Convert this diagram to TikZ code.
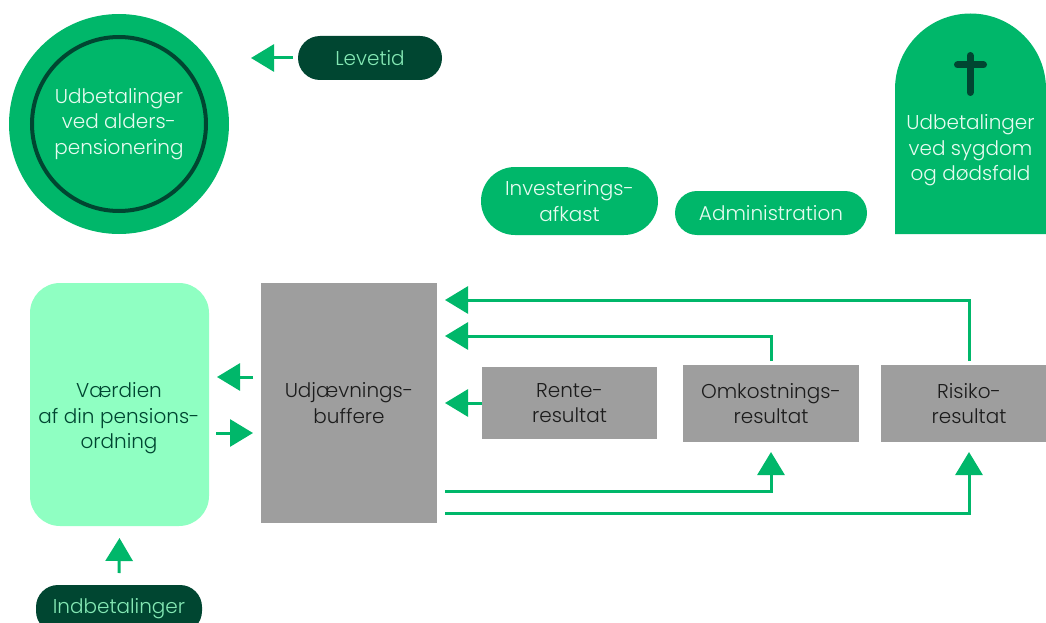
\documentclass[tikz,border=0pt]{standalone}
\usepackage{fontspec}
\setmainfont{Poppins Light}
\usetikzlibrary{arrows.meta,calc}
\definecolor{gr}{HTML}{00B76A}
\definecolor{dk}{HTML}{004631}
\definecolor{lt}{HTML}{8FFFC2}
\definecolor{gy}{HTML}{9E9E9E}
\definecolor{pl}{HTML}{E6FBF0}
\definecolor{mint}{HTML}{84E8B4}
\definecolor{ink}{HTML}{1C1C1C}
\tikzset{
  x=1pt,y=-1pt,
  every node/.style={font=\fontsize{20}{25.5}\selectfont,align=center,inner sep=0pt,outer sep=0pt},
  pillg/.style={fill=gr,text=pl,rounded corners=22pt},
  pilld/.style={fill=dk,text=mint,rounded corners=22pt},
  greybox/.style={fill=gy,text=ink},
  conn/.style={draw=gr,line width=3pt,-{Triangle[length=23pt,width=27pt]}},
}
\begin{document}
\begin{tikzpicture}
\useasboundingbox (0,0) rectangle (1046,623);
\clip (0,0) rectangle (1046,623);
% circle
\node[circle,fill=gr,minimum size=220pt] (outer) at (119,124) {};
\node[circle,draw=dk,line width=4pt,text=pl,minimum size=174pt] (inner) at (119,124) {Udbetalinger\\ved alders-\\pensionering};
% pills
\node[pilld,minimum width=144pt,minimum height=44pt] (lev) at (370,58) {Levetid};
\node[pillg,rounded corners=34pt,minimum width=177pt,minimum height=68pt] (inv) at (569.5,201) {Investerings-\\afkast};
\node[pillg,minimum width=192pt,minimum height=44pt] (adm) at (771,213) {Administration};
\node[pilld,minimum width=166pt,minimum height=48pt] (ind) at (119,609) {Indbetalinger};
% tombstone
\fill[gr] (895,234) -- (895,89) arc[start angle=180,end angle=360,radius=75.5] -- (1046,234) -- cycle;
\node[text=pl] (tomb) at (970.5,150.5) {Udbetalinger\\ved sygdom\\og dødsfald};
\draw[dk,line width=7pt,line cap=round] (970,55.5) -- (970,92.5) (957.5,65) -- (983.5,65);
% boxes
\node[fill=lt,text=dk,rounded corners=30pt,minimum width=179pt,minimum height=243pt] (val) at (119.5,404.5) {};
\node[text=dk] (valtxt) at (119,418.5) {Værdien\\af din pensions-\\ordning};
\node[greybox,minimum width=176pt,minimum height=240pt] (buf) at (349,403) {Udjævnings-\\buffere};
\node[greybox,minimum width=175pt,minimum height=72pt] (ren) at (569.5,403) {Rente-\\resultat};
\node[greybox,minimum width=176pt,minimum height=77pt] (omk) at (771,403.5) {Omkostnings-\\resultat};
\node[greybox,minimum width=176pt,minimum height=77pt] (ris) at (969,403.5) {Risiko-\\resultat};
% connectors
\draw[conn] ([xshift=-5pt]lev.west) -- ([xshift=22pt]outer.east |- lev.west);
\draw[conn] ([xshift=-8pt]buf.west |- 0,377) -- ([xshift=8pt]val.east |- 0,377);
\draw[conn] ([xshift=7pt]val.east |- 0,433) -- ([xshift=-8pt]buf.west |- 0,433);
\draw[conn] ([yshift=12pt]ind.north) -- ([yshift=-12pt]val.south);
\draw[conn] (ren.west) -- ([xshift=8pt]buf.east |- ren.west);
\draw[conn] ([yshift=4pt]ris.north) |- ([xshift=8pt]buf.east |- 0,300);
\draw[conn] ([yshift=4pt]omk.north) |- ([xshift=8pt]buf.east |- 0,336);
\draw[conn] ([xshift=8pt]buf.east |- 0,491) -| ([yshift=-10pt]omk.south);
\draw[conn] ([xshift=8pt]buf.east |- 0,513) -| ([yshift=-10pt]ris.south);
\end{tikzpicture}
\end{document}
